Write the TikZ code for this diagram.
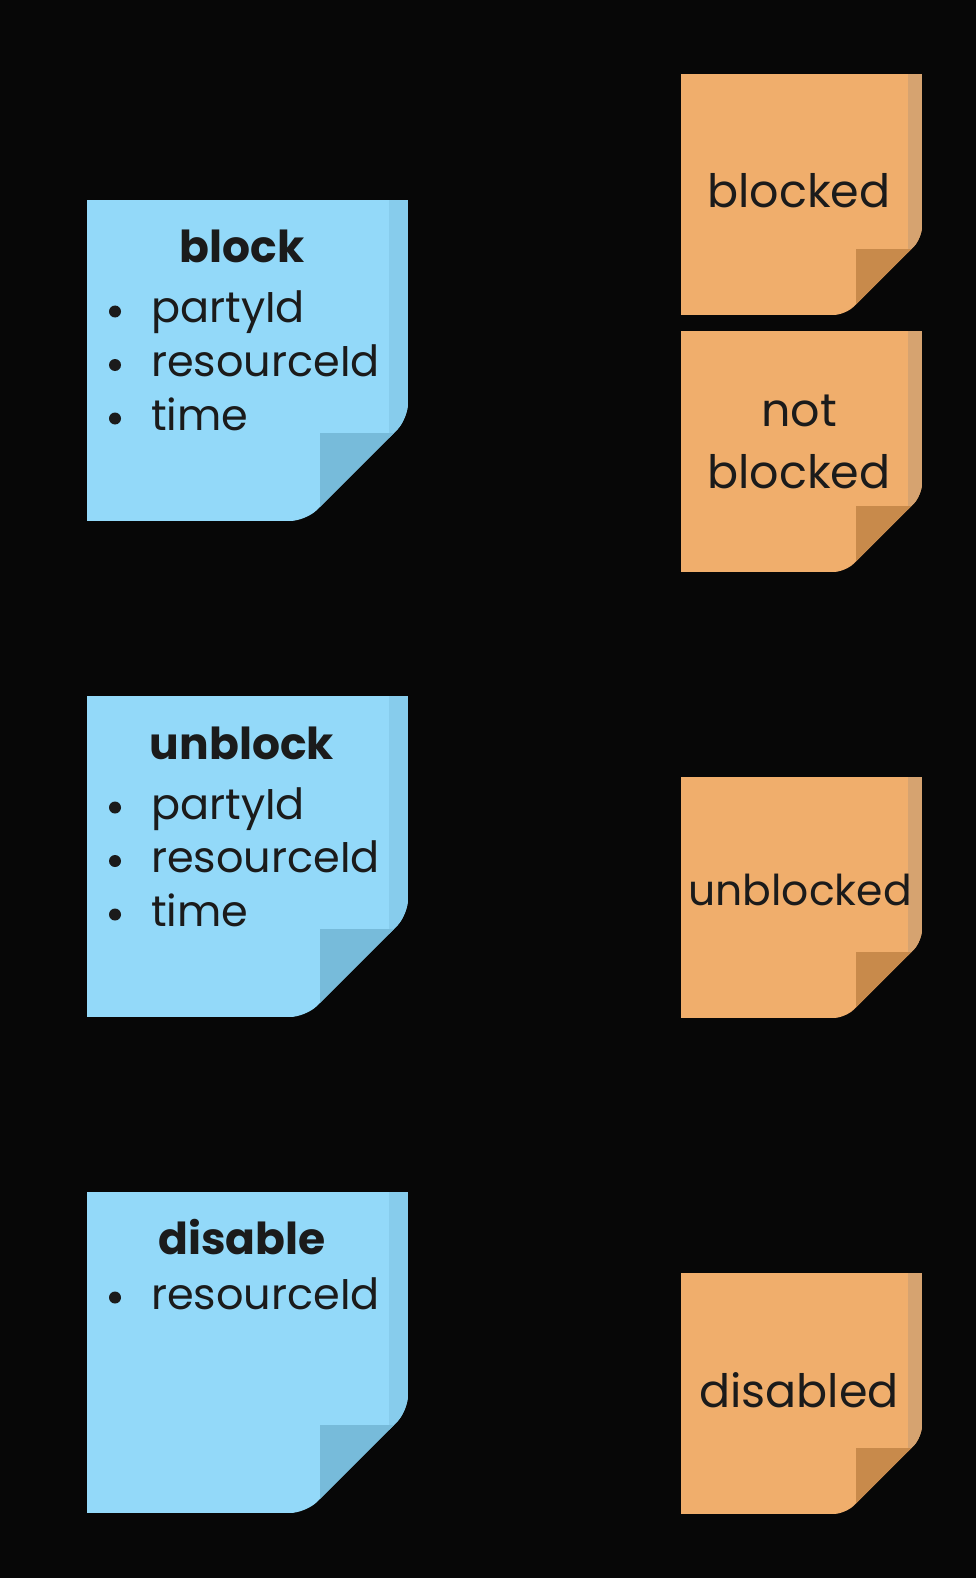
\documentclass[tikz,border=0pt]{standalone}
\usepackage{fontspec}
\setmainfont{Poppins}
\usepackage{tikz}
\usetikzlibrary{positioning}

\definecolor{bgblack}{HTML}{070707}
\definecolor{inkgrey}{HTML}{1B1B1B}
\definecolor{cmdface}{HTML}{93D9F9}
\definecolor{cmdstrip}{HTML}{87CCEC}
\definecolor{cmdfold}{HTML}{77BBDA}
\definecolor{evtface}{HTML}{F0AE6C}
\definecolor{evtstrip}{HTML}{D6A370}
\definecolor{evtfold}{HTML}{C88A4B}

% sticky note: name, left, top, size, colour prefix
\newcommand{\stickynote}[5]{%
  \pgfmathsetmacro{\nR}{#2+#4}%
  \pgfmathsetmacro{\nB}{#3+#4}%
  \pgfmathsetmacro{\nC}{0.318*#4}%
  \pgfmathsetmacro{\nF}{0.274*#4}%
  \pgfmathsetmacro{\nW}{0.06*#4}%
  \pgfmathsetmacro{\nK}{0.05*#4}%
  \coordinate (#1) at ({#2+#4/2},{#3+#4/2});
  \begin{scope}
    \clip (#2,#3) -- ({\nR},#3) [rounded corners=\nK pt] -- ({\nR},{\nB-\nC})
      -- ({\nR-\nC},{\nB}) [sharp corners] -- (#2,{\nB}) -- cycle;
    \fill[#5face] (#2,#3) rectangle ({\nR},{\nB});
    \fill[#5strip] ({\nR-\nW},#3) rectangle ({\nR},{\nB});
    \fill[#5fold] ({\nR-\nF},{\nB-\nF}) rectangle ({\nR},{\nB});
  \end{scope}}

\begin{document}
\begin{tikzpicture}[
    x=1pt, y=-1pt,
    title/.style={font=\fontsize{44}{52}\selectfont\bfseries, text=inkgrey, anchor=base, inner sep=0pt},
    item/.style={font=\fontsize{43}{52}\selectfont, text=inkgrey, anchor=base west, inner sep=0pt},
    dot/.style={circle, fill=inkgrey, inner sep=0pt, minimum size=12pt},
    outtext/.style={font=\fontsize{46}{62}\selectfont, text=inkgrey, align=center, inner sep=0pt}
]
    \fill[bgblack] (0,0) rectangle (976,1578);
    \useasboundingbox (0,0) rectangle (976,1578);

    % Commands
    \stickynote{blocknote}{87}{200}{321}{cmd}
    \stickynote{unblocknote}{87}{696}{321}{cmd}
    \stickynote{disablenote}{87}{1192}{321}{cmd}

    % Events
    \stickynote{blockednote}{681}{74}{241}{evt}
    \stickynote{notblockednote}{681}{331}{241}{evt}
    \stickynote{unblockednote}{681}{777}{241}{evt}
    \stickynote{disablednote}{681}{1273}{241}{evt}

    % Command texts
    \node [title] (block) at (242,263) {block};
    \node [dot] (b1) at (115,311.5) {};
    \node [item] (partyA) at (151,323) {partyId};
    \node [dot] (b2) at (115,365) {};
    \node [item] (resourceA) at (151,376.5) {resourceId};
    \node [dot] (b3) at (115,418.5) {};
    \node [item] (timeA) at (151,430) {time};

    \node [title] (unblock) at (242,759) {unblock};
    \node [dot] (b4) at (115,807.5) {};
    \node [item] (partyB) at (151,819) {partyId};
    \node [dot] (b5) at (115,861) {};
    \node [item] (resourceB) at (151,872.5) {resourceId};
    \node [dot] (b6) at (115,914.5) {};
    \node [item] (timeB) at (151,926) {time};

    \node [title] (disable) at (242,1254) {disable};
    \node [dot] (b7) at (115,1297.5) {};
    \node [item] (resourceC) at (151,1309) {resourceId};

    % Event texts
    \node [outtext, anchor=base] (blocked) at (799,208) {blocked};
    \node [outtext] (notblocked) at (799,442) {not\\blocked};
    \node [outtext, anchor=base, font=\fontsize{42.5}{52}\selectfont] (unblocked) at (800,905) {unblocked};
    \node [outtext, anchor=base] (disabled) at (799,1407) {disabled};
\end{tikzpicture}
\end{document}
